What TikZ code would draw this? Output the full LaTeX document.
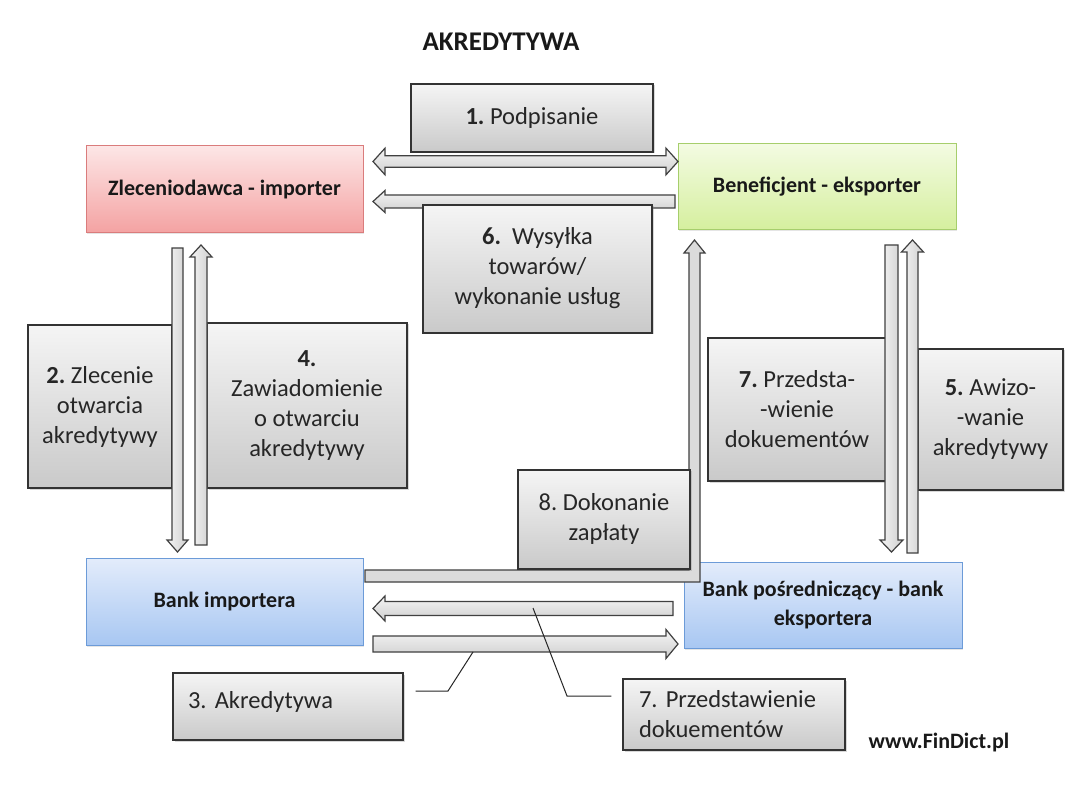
\documentclass[tikz,border=0pt]{standalone}
\usepackage{fontspec}
\setmainfont{Carlito}
\usetikzlibrary{calc,shadows}
\frenchspacing
\definecolor{redtop}{HTML}{FDE6E6}
\definecolor{redbot}{HTML}{F4A2A2}
\definecolor{redln}{HTML}{DA7C7C}
\definecolor{grntop}{HTML}{F3FBE2}
\definecolor{grnbot}{HTML}{D5EF9E}
\definecolor{grnln}{HTML}{A6CE6C}
\definecolor{blutop}{HTML}{E3ECFB}
\definecolor{blubot}{HTML}{A8C7F2}
\definecolor{bluln}{HTML}{6C9BD8}
\newcommand\shiftlines[2]{\raisebox{#1}{\begin{tabular}{@{}c@{}}#2\end{tabular}}}
\tikzset{
  gbox/.style={draw=black!80, line width=1.2pt, top color=gray!8, bottom color=gray!42,
    text=black!85, font=\fontsize{24.5}{30}\selectfont, align=center, inner sep=2pt,
    drop shadow={shadow xshift=1.5pt, shadow yshift=-1.5pt, opacity=.3}},
  cbox/.style={line width=1pt, font=\bfseries\fontsize{22}{29}\selectfont, align=center,
    text=black!90, drop shadow={shadow xshift=1pt, shadow yshift=-1.5pt, opacity=.2}},
  harrow/.style={draw=black!75, line width=1.2pt, top color=gray!8, bottom color=gray!38, line join=miter},
  varrow/.style={draw=black!75, line width=1.2pt, left color=gray!8, right color=gray!38, line join=miter},
  callout/.style={draw=black!85, line width=1pt},
}
% single block arrow: [style]{tail}{tip}{half shaft}{half head}{head length}
\newcommand\barrow[6][harrow]{%
  \coordinate (ba-h) at ($#3!#6!#2$);
  \draw[#1] ($#2!#4!90:#3$) -- ($(ba-h)!#4!90:#3$) -- ($(ba-h)!#5!90:#3$) -- #3
    -- ($(ba-h)!#5!-90:#3$) -- ($(ba-h)!#4!-90:#3$) -- ($#2!#4!-90:#3$) -- cycle;
}
\newcommand\dbarrow[6][harrow]{%
  \coordinate (da-h1) at ($#2!#6!#3$);
  \coordinate (da-h2) at ($#3!#6!#2$);
  \draw[#1] #2 -- ($(da-h1)!#5!90:#3$) -- ($(da-h1)!#4!90:#3$) -- ($(da-h2)!#4!90:#3$)
    -- ($(da-h2)!#5!90:#3$) -- #3 -- ($(da-h2)!#5!-90:#3$) -- ($(da-h2)!#4!-90:#3$)
    -- ($(da-h1)!#4!-90:#3$) -- ($(da-h1)!#5!-90:#3$) -- cycle;
}
\begin{document}
\begin{tikzpicture}[x=1pt,y=-1pt]
\useasboundingbox[fill=white] (0,0) rectangle (1080,810);

% arrow 6 (under box 6)
\barrow{(675,201.5)}{(373,201.5)}{6.5pt}{11pt}{12pt}

% main parties
\node[cbox, draw=redln, top color=redtop, bottom color=redbot, minimum width=277pt, minimum height=87pt]
  (imp) at (224.5,189.5) {Zleceniodawca - importer};
\node[cbox, draw=grnln, top color=grntop, bottom color=grnbot, minimum width=278pt, minimum height=86pt]
  (ben) at (817,187) {Beneficjent - eksporter};
\node[cbox, draw=bluln, top color=blutop, bottom color=blubot, minimum width=277pt, minimum height=87pt]
  (bimp) at (224.5,601.5) {Bank importera};
\node[cbox, draw=bluln, top color=blutop, bottom color=blubot, minimum width=278pt, minimum height=86pt]
  (bexp) at (823,605) {Bank pośredniczący - bank\\eksportera};

% label boxes
\node[gbox, minimum width=242pt, minimum height=68pt] (b1) at (532,118) {\textbf{1.} Podpisanie};
\node[gbox, minimum width=229pt, minimum height=128pt] (b6) at (537.5,269)
  {\shiftlines{-8pt}{\textbf{6.}\ \ Wysyłka\\towarów/\\wykonanie usług}};
\node[gbox, minimum width=144pt, minimum height=163pt] (b2) at (100,406.5)
  {\textbf{2.} Zlecenie\\otwarcia\\akredytywy};
\node[gbox, minimum width=200pt, minimum height=165pt] (b4) at (307,405.5)
  {\textbf{4.}\\Zawiadomienie\\o otwarciu\\akredytywy};
\node[gbox, minimum width=178pt, minimum height=143pt] (b7) at (797,409.5)
  {\textbf{7.} Przedsta-\\-wienie\\dokuementów};
\node[gbox, minimum width=145pt, minimum height=141pt] (b5) at (990.5,419.5)
  {\textbf{5.} Awizo-\\-wanie\\akredytywy};
\node[gbox, minimum width=230pt, minimum height=67pt, align=left, text width=200pt, inner xsep=15pt] (b3) at (288,706.5)
  {\raisebox{13pt}{3. Akredytywa}};
\node[gbox, minimum width=222pt, minimum height=71pt, align=left, text width=190pt, inner xsep=16pt] (b7b) at (734,714.5)
  {7. Przedstawienie\\dokuementów};

% payment arrow 8 (L-shaped)
\draw[draw=black!75, line width=1.2pt, fill=gray!28, line join=miter]
  (365,570) -- (689,570) -- (689,253) -- (684,253) -- (694.5,240) -- (705,253)
  -- (700,253) -- (700,582) -- (365,582) -- cycle;
\node[gbox, minimum width=172pt, minimum height=99pt] (b8) at (604,519.5)
  {\shiftlines{-9pt}{8. Dokonanie\\zapłaty}};

% block arrows
\dbarrow{(373,161.5)}{(678,161.5)}{5.7pt}{13.3pt}{12pt}
\barrow[varrow]{(177.5,248)}{(177.5,552)}{5.5pt}{10.5pt}{12pt}
\barrow[varrow]{(201,545)}{(201,245)}{6pt}{11pt}{12pt}
\barrow[varrow]{(891.5,245)}{(891.5,552)}{6.5pt}{11.5pt}{12pt}
\barrow[varrow]{(912.5,553)}{(912.5,240)}{5.5pt}{11pt}{12pt}
\barrow{(673,608.5)}{(373,608.5)}{7pt}{12.5pt}{12pt}
\barrow{(373,644)}{(678,644)}{8pt}{14.5pt}{12pt}

% callouts
\coordinate (c3a) at ($(b3.east)+(12,-15.5)$);
\coordinate (c3b) at (448,691);
\coordinate (c3c) at (473,652);
\draw[callout] (c3a) -- (c3b) -- (c3c);
\coordinate (c7a) at ($(b7b.west)+(-11,-18.5)$);
\coordinate (c7b) at (567,696);
\coordinate (c7c) at (533,608);
\draw[callout] (c7a) -- (c7b) -- (c7c);

% title and source
\node[font=\bfseries\fontsize{27}{32}\selectfont, text=black!90] (title) at (501,42) {AKREDYTYWA};
\node[font=\bfseries\fontsize{22}{26}\selectfont, text=black!90] (src) at (939,743) {www.FinDict.pl};
\end{tikzpicture}
\end{document}
